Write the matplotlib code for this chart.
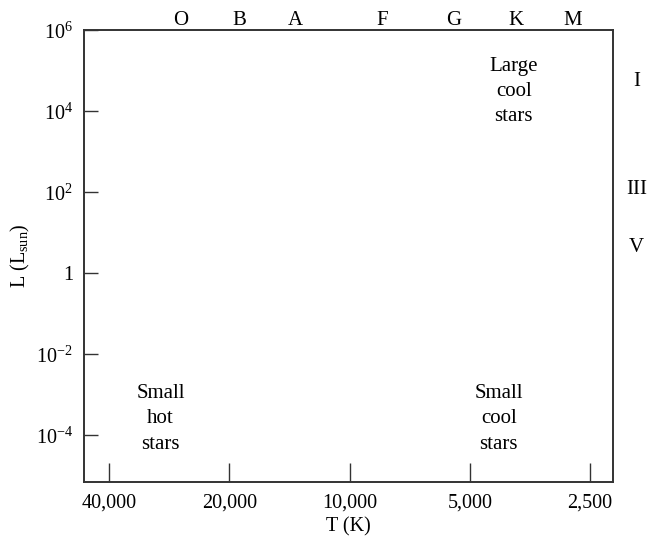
import matplotlib
matplotlib.use("Agg")
import matplotlib.pyplot as plt
from matplotlib.ticker import FixedLocator, NullLocator

plt.rcParams['font.family'] = ['Liberation Serif', 'DejaVu Serif']
plt.rcParams['mathtext.fontset'] = 'custom'
plt.rcParams['mathtext.rm'] = 'Liberation Serif'

# temperature ticks (K) and luminosity ticks (L_sun)
t_ticks = [40000, 20000, 10000, 5000, 2500]
t_labels = ['40,000', '20,000', '10,000', '5,000', '2,500']
l_ticks = [1e-4, 1e-2, 1, 1e2, 1e4, 1e6]
l_labels = ['$10^{-4}$', '$10^{-2}$', '1', '$10^{2}$', '$10^{4}$', '$10^{6}$']

# spectral classes along the top
spec_types = ['O', 'B', 'A', 'F', 'G', 'K', 'M']
spec_temps = [26400, 18900, 13700, 8300, 5480, 3830, 2770]

# luminosity classes on the right
lum_classes = ['I', 'III', 'V']
lum_values = [10**4.74, 10**2.05, 10**0.62]

# region notes
notes = ['Large\ncool\nstars', 'Small\nhot\nstars', 'Small\ncool\nstars']
note_t = [3880, 29700, 4230]
note_l = [10**4.48, 10**-3.6, 10**-3.6]

fig = plt.figure(figsize=(6.5, 5.41), dpi=100)
ax = fig.add_axes([84/650, 59/541, 529/650, 452/541])

ax.set_xscale('log')
ax.set_yscale('log')
ax.set_xlim(46200, 2190)
ax.set_ylim(10**-5.16, 1e6)

ax.xaxis.set_major_locator(FixedLocator(t_ticks))
ax.xaxis.set_minor_locator(NullLocator())
ax.set_xticklabels(t_labels)
ax.yaxis.set_major_locator(FixedLocator(l_ticks))
ax.yaxis.set_minor_locator(NullLocator())
ax.set_yticklabels(l_labels)

ax.tick_params(axis='x', direction='in', length=14, width=1, pad=8,
               labelsize=14.5, color='#333333')
ax.tick_params(axis='y', direction='in', length=10, width=1, pad=8,
               labelsize=14.5, color='#333333')
for s in ax.spines.values():
    s.set_linewidth(1.4)
    s.set_color('#333333')

ax.set_xlabel('T (K)', fontsize=14.5, labelpad=4)
ax.set_ylabel('L (L$_{\\rm sun}$)', fontsize=14.5, labelpad=3)

for lab, t in zip(spec_types, spec_temps):
    ax.text(t, 1.0, lab, transform=ax.get_xaxis_transform(),
            ha='center', va='bottom', fontsize=15)

for lab, l in zip(lum_classes, lum_values):
    ax.text(1.045, l, lab, transform=ax.get_yaxis_transform(),
            ha='center', va='center', fontsize=15)

for txt, t, l in zip(notes, note_t, note_l):
    ax.text(t, l, txt, ha='center', va='center', fontsize=15,
            linespacing=1.45)

fig.savefig('out.png', dpi=100)
